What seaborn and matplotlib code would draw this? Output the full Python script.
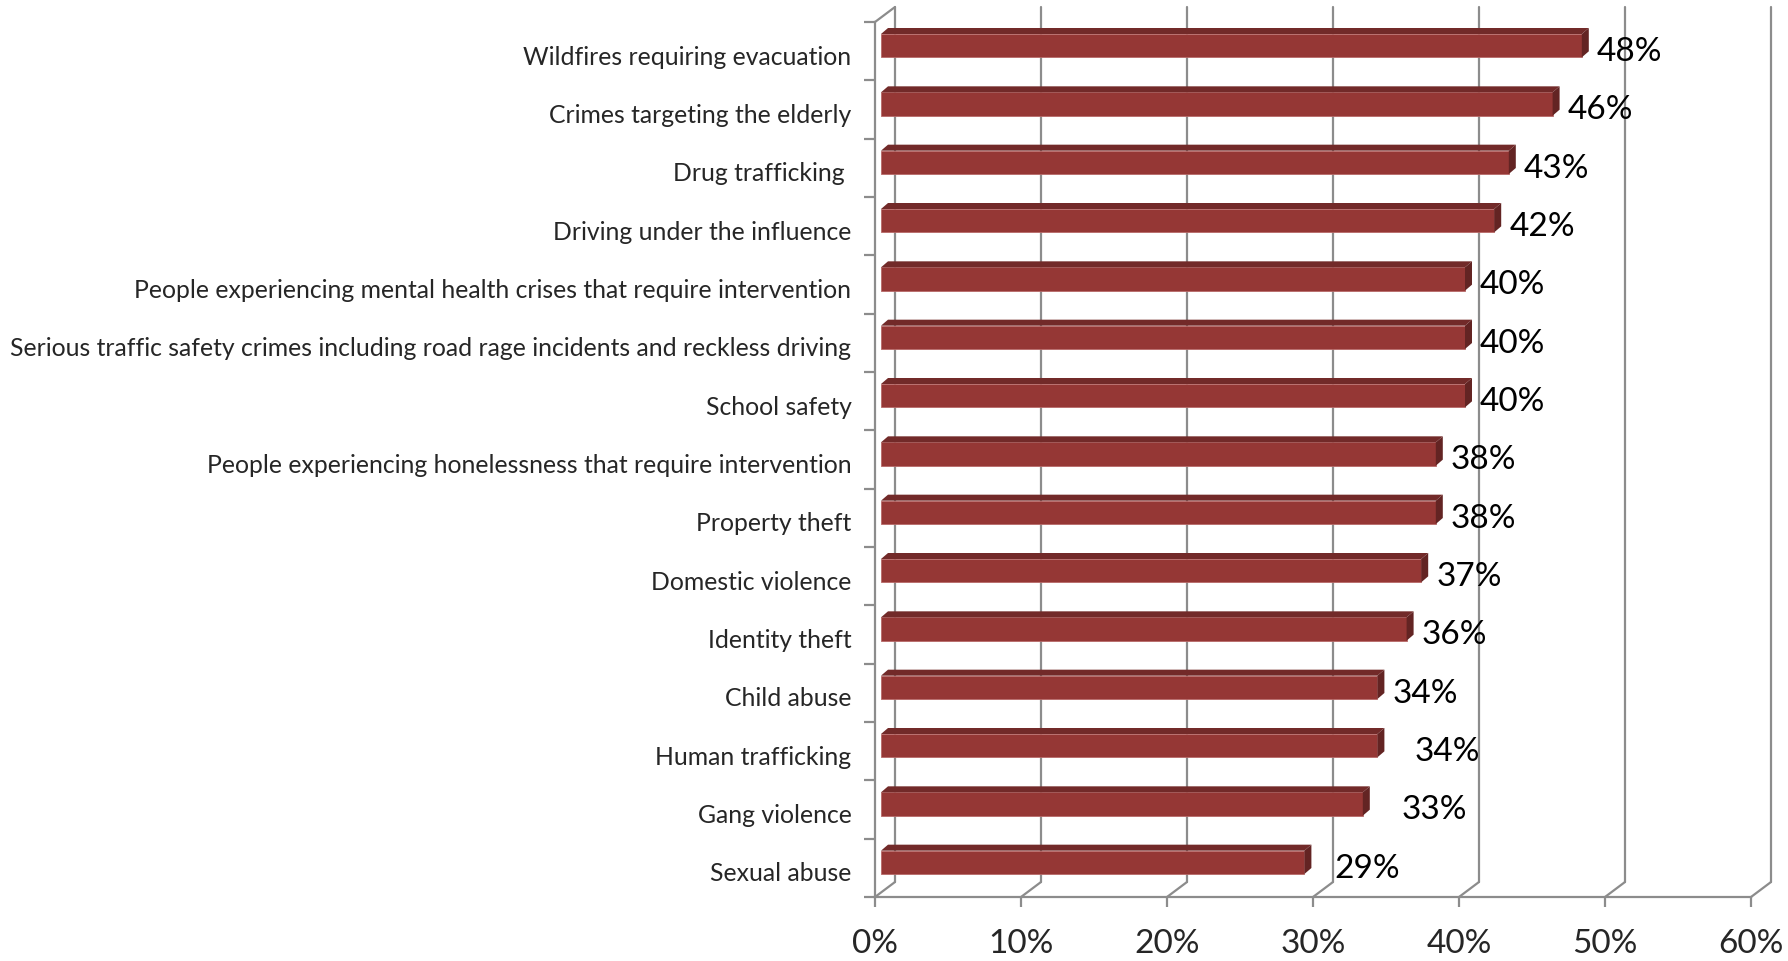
import numpy as np
import matplotlib
matplotlib.use('Agg')
import matplotlib.pyplot as plt
import seaborn as sns
from matplotlib.patches import Polygon
from matplotlib.transforms import ScaledTranslation
from matplotlib.ticker import PercentFormatter

# 데이터
categories = ['Wildfires requiring evacuation',
              'Crimes targeting the elderly',
              'Drug trafficking ',
              'Driving under the influence',
              'People experiencing mental health crises that require intervention',
              'Serious traffic safety crimes including road rage incidents and reckless driving',
              'School safety',
              'People experiencing honelessness that require intervention',
              'Property theft',
              'Domestic violence',
              'Identity theft',
              'Child abuse',
              'Human trafficking',
              'Gang violence',
              'Sexual abuse']
values = [0.48, 0.46, 0.43, 0.42, 0.40, 0.40, 0.40, 0.38, 0.38, 0.37, 0.36, 0.34, 0.34, 0.33, 0.29]
value_labels = ['48%', '46%', '43%', '42%', '40%', '40%', '40%', '38%', '38%', '37%', '36%', '34%', '34%', '33%', '29%']
x_ticks = [0, 0.1, 0.2, 0.3, 0.4, 0.5, 0.6]

# 라벨 간격 (px) - 원본에서 몇개는 더 떨어져 있음
label_pad = [8, 8, 8, 8, 8, 8, 8, 8, 8, 8, 8, 8, 30, 32, 23]

sns.set_style('white')
plt.rcParams['font.family'] = ['Lato', 'DejaVu Sans']

grid_col = '#8c8c8c'
front_col = '#953735'
top_col = '#722a29'
side_col = '#632423'

W, H = 1788, 961
fig = plt.figure(figsize=(W / 100, H / 100), dpi=100)
ax = fig.add_axes([875 / W, 64 / H, 876 / W, 875 / H])

sns.barplot(x=values, y=categories, orient='h', color=front_col, width=0.4,
            saturation=1, ax=ax)
ax.set_xlim(0, 0.6)
ax.set_ylim(len(categories) - 0.5, -0.5)

# 픽셀 -> 데이터 단위
px_x = 0.6 / 876
px_y = len(categories) / 875

# 뒷벽 그리드 (3D 느낌)
wall = ax.transData + ScaledTranslation(20 / 100, 15 / 100, fig.dpi_scale_trans)
n = len(categories)
for t in x_ticks:
    ax.plot([t, t], [n - 0.5, -0.5], color=grid_col, lw=1.6, transform=wall, clip_on=False, zorder=1)
    ax.plot([t, t + 20 * px_x], [n - 0.5, n - 0.5 - 15 * px_y], color=grid_col, lw=1.6,
            clip_on=False, zorder=1)
ax.plot([0, 20 * px_x], [-0.5, -0.5 - 15 * px_y], color=grid_col, lw=1.6, clip_on=False, zorder=1)

# 막대 3D 면
bdx, bdy = 7 * px_x, 6 * px_y
shift_x, shift_y = 6 * px_x, 5.5 * px_y
for p in ax.patches[:]:
    p.set_x(p.get_x() + shift_x)
    p.set_y(p.get_y() - shift_y)
    p.set_edgecolor('#b86a68')
    p.set_linewidth(0.6)
    p.set_zorder(3)
    x0, y0 = p.get_x(), p.get_y()
    x1, y1 = x0 + p.get_width(), y0 + p.get_height()
    ax.add_patch(Polygon([(x0, y0), (x1, y0), (x1 + bdx, y0 - bdy), (x0 + bdx, y0 - bdy)],
                         closed=True, facecolor=top_col, edgecolor='none', zorder=3))
    ax.add_patch(Polygon([(x1, y0), (x1, y1), (x1 + bdx, y1 - bdy), (x1 + bdx, y0 - bdy)],
                         closed=True, facecolor=side_col, edgecolor='none', zorder=3))

# 값 라벨
for i, (v, lab) in enumerate(zip(values, value_labels)):
    ax.annotate(lab, (v, i), xytext=((6 + 7 + label_pad[i]) * 0.72, -0.5),
                textcoords='offset points', ha='left', va='center',
                fontsize=24, color='black', annotation_clip=False, zorder=5)

# 축
for s in ['top', 'right']:
    ax.spines[s].set_visible(False)
for s in ['left', 'bottom']:
    ax.spines[s].set_color(grid_col)
    ax.spines[s].set_linewidth(1.6)

ax.set_xticks(x_ticks)
ax.xaxis.set_major_formatter(PercentFormatter(1.0, decimals=0))
ax.tick_params(axis='x', direction='out', length=7, width=1.6, color=grid_col,
               labelsize=24, pad=16, bottom=True)
ax.tick_params(axis='y', which='major', length=0, labelsize=17.8, pad=17)
ax.set_yticks(np.arange(-0.5, n), minor=True)
ax.tick_params(axis='y', which='minor', direction='out', length=8, width=1.6,
               color=grid_col, left=True)
for lab in ax.get_yticklabels():
    lab.set_transform(lab.get_transform() + ScaledTranslation(0, -4 / 100, fig.dpi_scale_trans))
ax.set_xlabel('')
ax.set_ylabel('')
ax.grid(False)

fig.savefig('out.png', dpi=100)
